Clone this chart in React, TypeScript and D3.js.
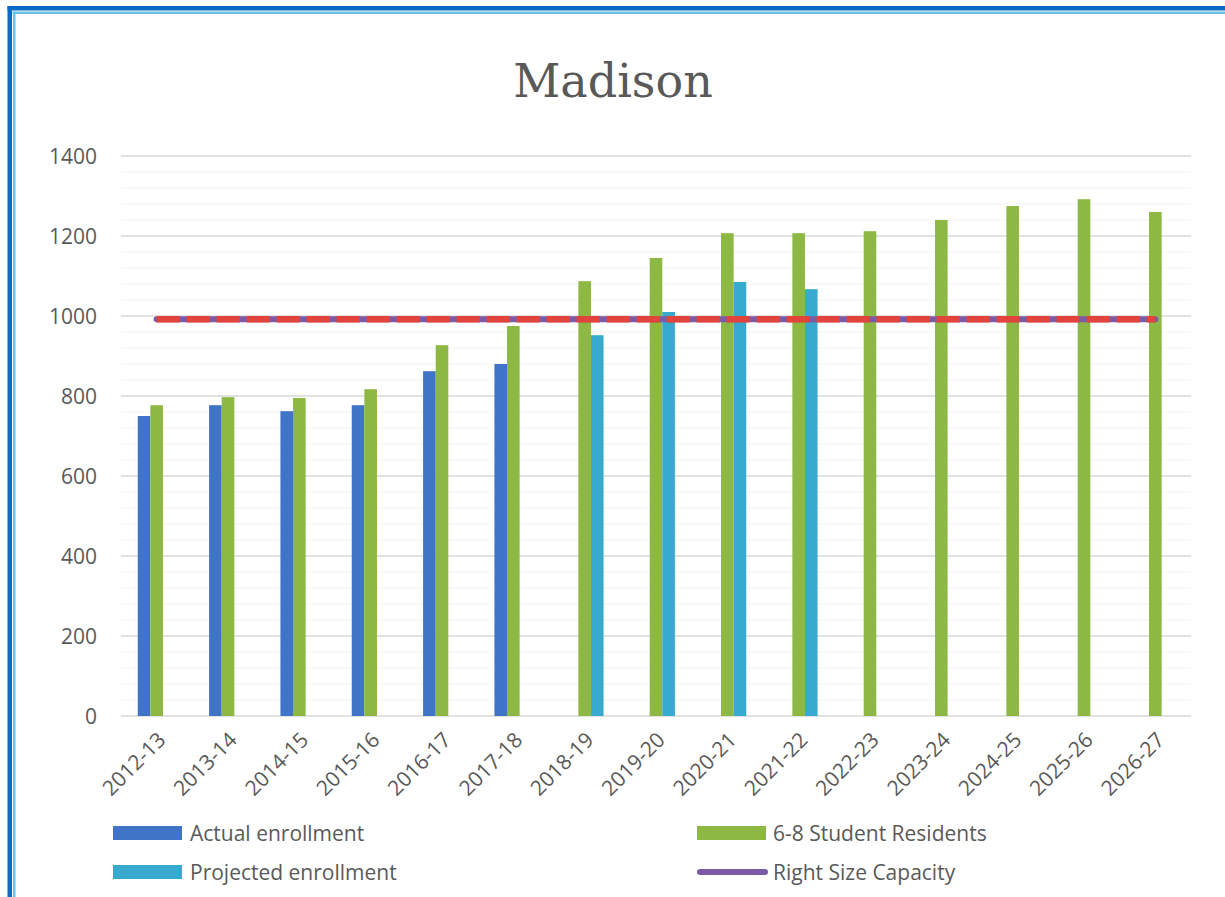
import React from "react";
import * as d3 from "d3";

const categories = [
  "2012-13", "2013-14", "2014-15", "2015-16", "2016-17", "2017-18", "2018-19", "2019-20",
  "2020-21", "2021-22", "2022-23", "2023-24", "2024-25", "2025-26", "2026-27",
];

// null = no bar for that year
const actualEnrollment: (number | null)[] = [750, 777, 762, 777, 862, 880, null, null, null, null, null, null, null, null, null];
const studentResidents: (number | null)[] = [777, 797, 795, 817, 927, 975, 1087, 1145, 1207, 1207, 1212, 1240, 1275, 1292, 1260];
const projectedEnrollment: (number | null)[] = [null, null, null, null, null, null, 952, 1010, 1085, 1067, null, null, null, null, null];
const rightSizeCapacity = 992;

const yTicks = [0, 200, 400, 600, 800, 1000, 1200, 1400];

const W = 1225;
const H = 897;
const M = { left: 121, right: 1191, top: 156, bottom: 716 };

const FONT = "'Open Sans', sans-serif";
const TEXT = "#595959";
const FS = 21;

const series = [
  { key: "actual", values: actualEnrollment, color: "#3F74C6" },
  { key: "residents", values: studentResidents, color: "#8DB843" },
  { key: "projected", values: projectedEnrollment, color: "#38A9CF" },
];

export default function App() {
  const x0 = d3.scaleBand<string>().domain(categories).range([M.left, M.right]).paddingInner(0).paddingOuter(0);
  const cluster = x0.bandwidth() * 0.53;
  const x1 = d3
    .scaleBand<string>()
    .domain(series.map((s) => s.key))
    .range([(x0.bandwidth() - cluster) / 2, (x0.bandwidth() + cluster) / 2]);
  const y = d3.scaleLinear().domain([0, 1400]).range([M.bottom, M.top]);

  const minorTicks = d3.range(0, 1400, 40).filter((v) => v % 200 !== 0);

  const cx = (c: string) => (x0(c) ?? 0) + x0.bandwidth() / 2;
  const capLine = d3.line<string>().x((c) => cx(c)).y(() => y(rightSizeCapacity))(categories) ?? "";

  return (
    <svg
      width={W}
      height={H}
      viewBox={`0 0 ${W} ${H}`}
      style={{ position: "absolute", left: 0, top: 0, background: "#fff" }}
    >
      <rect x={0} y={0} width={W} height={H} fill="#fff" />

      {/* frame */}
      <rect x={7.5} y={6} width={W} height={4.5} fill="#0B6BC2" />
      <rect x={7.5} y={6} width={4.5} height={H} fill="#0B6BC2" />
      <rect x={12.5} y={11.5} width={W} height={2.5} fill="#6CC0E6" />
      <rect x={13} y={11.5} width={2.5} height={H} fill="#6CC0E6" />

      {/* title */}
      <text x={613} y={97} textAnchor="middle" fontFamily="'DejaVu Serif', serif" fontSize={46} fill={TEXT}>
        Madison
      </text>

      {/* gridlines */}
      {minorTicks.map((t) => (
        <line key={"m" + t} x1={M.left} x2={M.right} y1={y(t)} y2={y(t)} stroke="#F3F3F3" strokeWidth={1.2} />
      ))}
      {yTicks.map((t) => (
        <line key={"g" + t} x1={M.left} x2={M.right} y1={y(t)} y2={y(t)} stroke="#D9D9D9" strokeWidth={1.5} />
      ))}

      {/* y labels */}
      {yTicks.map((t) => (
        <text key={"yl" + t} x={97} y={y(t)} dy="0.36em" textAnchor="end" fontFamily={FONT} fontSize={FS} fill={TEXT}>
          {t}
        </text>
      ))}

      {/* bars */}
      {series.map((s) =>
        categories.map((c, i) => {
          const v = s.values[i];
          if (v == null) return null;
          return (
            <rect
              key={s.key + c}
              x={(x0(c) ?? 0) + (x1(s.key) ?? 0)}
              y={y(v)}
              width={x1.bandwidth()}
              height={y(0) - y(v)}
              fill={s.color}
            />
          );
        })
      )}

      {/* capacity line: purple with red dashes over it */}
      <path d={capLine} fill="none" stroke="#7B5BA6" strokeWidth={6} strokeLinecap="round" />
      <path d={capLine} fill="none" stroke="#E2433B" strokeWidth={6.5} strokeDasharray="23 7" strokeLinecap="butt" />

      {/* x labels */}
      {categories.map((c) => (
        <text
          key={"xl" + c}
          transform={`translate(${cx(c) + 5},${M.bottom + 20}) rotate(-45)`}
          textAnchor="end"
          dy="0.36em"
          fontFamily={FONT}
          fontSize={FS}
          fill={TEXT}
        >
          {c}
        </text>
      ))}

      {/* legend */}
      <rect x={113} y={826} width={69} height={14} fill="#3F74C6" />
      <text x={190} y={833} dy="0.36em" fontFamily={FONT} fontSize={FS} fill={TEXT}>
        Actual enrollment
      </text>
      <rect x={113} y={865} width={69} height={14} fill="#38A9CF" />
      <text x={190} y={872} dy="0.36em" fontFamily={FONT} fontSize={FS} fill={TEXT}>
        Projected enrollment
      </text>
      <rect x={697} y={826} width={69} height={14} fill="#8DB843" />
      <text x={773} y={833} dy="0.36em" fontFamily={FONT} fontSize={FS} fill={TEXT}>
        6-8 Student Residents
      </text>
      <line x1={700} x2={765} y1={872} y2={872} stroke="#7B5BA6" strokeWidth={6} strokeLinecap="round" />
      <text x={773} y={872} dy="0.36em" fontFamily={FONT} fontSize={FS} fill={TEXT}>
        Right Size Capacity
      </text>
    </svg>
  );
}
